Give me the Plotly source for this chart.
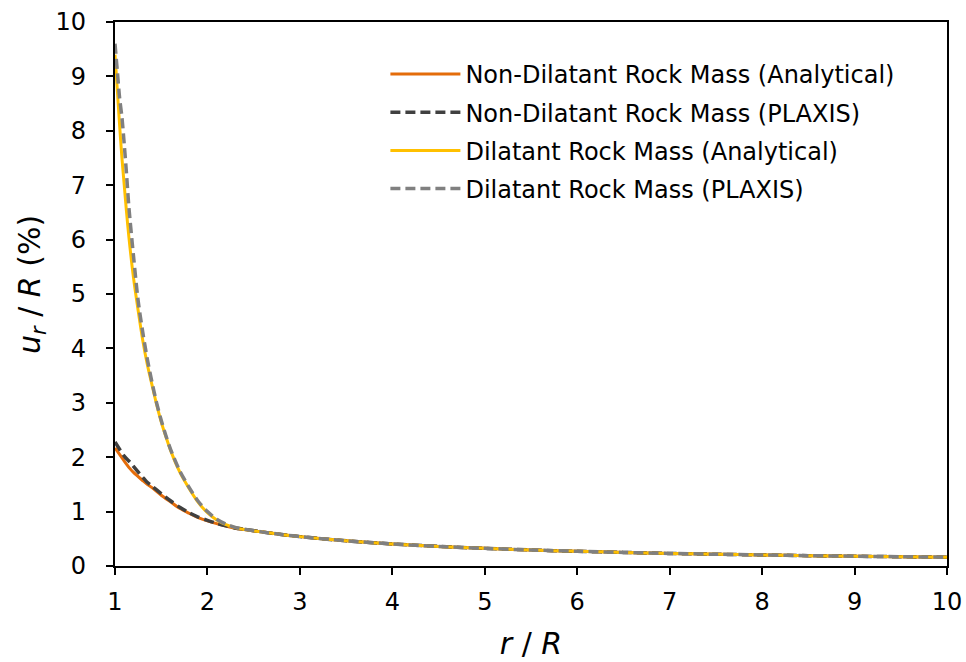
import plotly.graph_objects as go

# r / R sample positions and u_r / R (%) values
r_nd = [1.0, 1.1, 1.162, 1.2, 1.3, 1.342, 1.4, 1.5, 1.6, 1.7, 1.8, 1.9, 2.0, 2.1, 2.2, 2.3, 2.4,
        2.6, 2.8, 3.0, 3.5, 4.0, 4.5, 5.0, 5.5, 6.0, 6.5, 7.0, 7.5, 8.0, 8.5, 9.0, 9.5, 10.0]
u_nd_analytical = [2.17, 1.93, 1.79, 1.72, 1.57, 1.51, 1.44, 1.30, 1.18, 1.06, 0.97, 0.89, 0.83, 0.78, 0.735, 0.695, 0.67,
                   0.623, 0.579, 0.54, 0.463, 0.405, 0.36, 0.324, 0.295, 0.27, 0.25, 0.231, 0.216, 0.203, 0.19, 0.18, 0.17, 0.162]
u_nd_plaxis = [2.28, 2.02, 1.91, 1.83, 1.63, 1.55, 1.47, 1.33, 1.20, 1.08, 0.98, 0.90, 0.84, 0.785, 0.74, 0.70, 0.675,
               0.623, 0.579, 0.54, 0.463, 0.405, 0.36, 0.324, 0.295, 0.27, 0.25, 0.231, 0.216, 0.203, 0.19, 0.18, 0.17, 0.162]

r_d = [1.0, 1.025, 1.05, 1.075, 1.1, 1.125, 1.15, 1.2, 1.25, 1.3, 1.35, 1.4, 1.45, 1.5, 1.55, 1.6, 1.7, 1.8, 1.9,
       2.0, 2.1, 2.2, 2.3, 2.4, 2.6, 2.8, 3.0, 3.5, 4.0, 4.5, 5.0, 5.5, 6.0, 6.5, 7.0, 7.5, 8.0, 8.5, 9.0, 9.5, 10.0]
u_d_analytical = [9.40, 8.75, 8.10, 7.50, 7.00, 6.50, 6.05, 5.30, 4.70, 4.15, 3.70, 3.33, 2.97, 2.65, 2.38, 2.13, 1.73, 1.43, 1.17,
                  0.98, 0.845, 0.76, 0.705, 0.67, 0.623, 0.579, 0.54, 0.463, 0.405, 0.36, 0.324, 0.295, 0.27, 0.25, 0.231, 0.216, 0.203, 0.19, 0.18, 0.17, 0.162]
u_d_plaxis = [9.60, 9.10, 8.60, 8.25, 7.75, 7.20, 6.60, 5.70, 4.88, 4.30, 3.80, 3.38, 3.00, 2.68, 2.40, 2.15, 1.75, 1.45, 1.19,
              1.00, 0.86, 0.77, 0.71, 0.675, 0.623, 0.579, 0.54, 0.463, 0.405, 0.36, 0.324, 0.295, 0.27, 0.25, 0.231, 0.216, 0.203, 0.19, 0.18, 0.17, 0.162]

x_ticks = [1, 2, 3, 4, 5, 6, 7, 8, 9, 10]
y_ticks = [0, 1, 2, 3, 4, 5, 6, 7, 8, 9, 10]

FONT = "DejaVu Sans"

fig = go.Figure()
fig.add_trace(go.Scatter(x=r_nd, y=u_nd_analytical, mode="lines", name="Non-Dilatant Rock Mass (Analytical)",
                         line=dict(color="#E46C0A", width=3, shape="spline", smoothing=0.8), legendgroup="a"))
fig.add_trace(go.Scatter(x=r_nd, y=u_nd_plaxis, mode="lines", name="Non-Dilatant Rock Mass (PLAXIS)",
                         line=dict(color="#404040", width=3.5, dash="10px,5px", shape="spline", smoothing=0.8), legendgroup="b"))
fig.add_trace(go.Scatter(x=r_d, y=u_d_analytical, mode="lines", name="Dilatant Rock Mass (Analytical)",
                         line=dict(color="#FFC000", width=3, shape="spline", smoothing=0.8), legendgroup="c"))
fig.add_trace(go.Scatter(x=r_d, y=u_d_plaxis, mode="lines", name="Dilatant Rock Mass (PLAXIS)",
                         line=dict(color="#808080", width=3.5, dash="10px,5px", shape="spline", smoothing=0.8), legendgroup="d"))

axis_common = dict(showgrid=False, zeroline=False, showline=True, linecolor="black", linewidth=2,
                   mirror=True, ticks="outside", ticklen=7, tickwidth=2, tickcolor="black",
                   automargin=False,
                   tickfont=dict(family=FONT, size=24, color="black"))

fig.update_xaxes(range=[1, 10], tickvals=x_ticks, ticktext=[str(v) for v in x_ticks],
                 ticklabelstandoff=6,
                 title=dict(text="<i>r</i> / <i>R</i>", font=dict(family=FONT, size=30, color="black"), standoff=18),
                 **axis_common)
fig.update_yaxes(range=[0, 10], tickvals=y_ticks, ticktext=[str(v) + "\u00a0\u00a0" for v in y_ticks],
                 title=dict(text="&nbsp;&nbsp;<i>u</i><sub><i>r</i></sub> / <i>R</i> (%)", font=dict(family=FONT, size=30, color="black"), standoff=6),
                 **axis_common)

fig.update_layout(
    width=966, height=662,
    margin=dict(l=115, r=19, t=22, b=96),
    paper_bgcolor="white", plot_bgcolor="white",
    font=dict(family=FONT, color="black"),
    legend=dict(x=0.325, y=0.945, xanchor="left", yanchor="top", bgcolor="rgba(0,0,0,0)",
                font=dict(family=FONT, size=24, color="black"), itemwidth=70,
                tracegroupgap=4, traceorder="grouped"),
)

fig.write_html("out.html")
